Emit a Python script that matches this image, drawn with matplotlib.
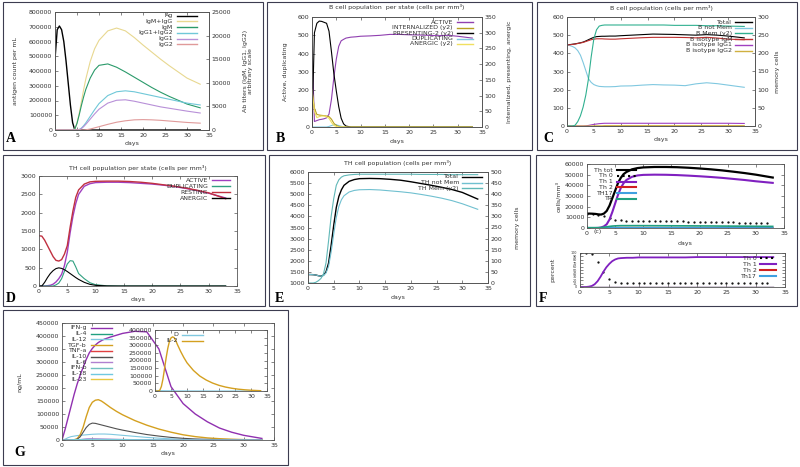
import matplotlib
matplotlib.use("Agg")
import matplotlib.pyplot as plt
from matplotlib.lines import Line2D
from matplotlib.patches import Rectangle

W, H = 800, 467
FS = 4.5
LW = 0.8

# sampling days shared by every curve
DAYS = [0, 0.5, 1, 1.5, 2, 2.5, 3, 3.5, 4, 4.5, 5, 5.5, 6, 6.5, 7, 8, 9, 10,
        12, 14, 16, 18, 20, 22, 24, 26, 28, 30, 33]
DOT_DAYS = list(range(0, 33))

# A: antigen and antibodies
AG = [480000, 680000, 705000, 680000, 600000, 470000, 320000, 170000, 50000,
      0, 0, 0, 0, 0, 0, 0, 0, 0, 0, 0, 0, 0, 0, 0, 0, 0, 0, 0, 0]
IGM_IGG = [0, 0, 0, 0, 0, 0, 0, 0, 0, 200, 1500, 3500, 6000, 8500, 10800, 14500,
           17200, 19000, 21000, 21600, 21000, 19600, 18000, 16500, 15000, 13600,
           12300, 11000, 9700]
IGM = [0, 0, 0, 0, 0, 0, 0, 0, 0, 200, 1400, 3200, 5200, 7000, 8600, 11000, 12700,
       13700, 14000, 13300, 12300, 11200, 10100, 9000, 8000, 7100, 6300, 5500, 4700]
IGG1_IGG2 = [0, 0, 0, 0, 0, 0, 0, 0, 0, 0, 0, 100, 400, 900, 1500, 2900, 4300, 5600,
             7300, 8100, 8300, 8100, 7700, 7300, 6900, 6500, 6100, 5700, 5300]
IGG1 = [0, 0, 0, 0, 0, 0, 0, 0, 0, 0, 0, 80, 300, 700, 1200, 2300, 3400, 4400,
        5700, 6300, 6400, 6100, 5700, 5300, 4900, 4600, 4300, 4000, 3600]
IGG2 = [0, 0, 0, 0, 0, 0, 0, 0, 0, 0, 0, 0, 0, 0, 50, 200, 450, 700, 1200, 1650,
        1950, 2150, 2200, 2150, 2050, 1900, 1750, 1600, 1450]

# B: B cells per state
B_ACTIVE = [440, 30, 35, 40, 42, 45, 50, 70, 150, 270, 370, 440, 470, 478, 485,
            490, 492, 495, 497, 500, 505, 505, 503, 502, 500, 498, 500, 495, 485]
B_INTERN = [115, 60, 40, 38, 37, 36, 35, 33, 25, 12, 5, 2, 0, 0, 0, 0, 0, 0, 0, 0,
            0, 0, 0, 0, 0, 0, 0, 0, 0]
B_PRESENT = [0, 300, 330, 337, 336, 333, 330, 305, 240, 170, 115, 65, 28, 10, 3,
             0, 0, 0, 0, 0, 0, 0, 0, 0, 0, 0, 0, 0, 0]
B_DUPL = [0, 0, 0, 0, 0, 0, 0, 3, 8, 12, 12, 8, 4, 1, 0, 0, 0, 0, 0, 0, 0, 0, 0, 0,
          0, 0, 0, 0, 0]
B_ANERGIC = [120, 50, 30, 33, 35, 35, 32, 28, 15, 5, 2, 0, 0, 0, 0, 0, 0, 0, 0, 0,
             0, 0, 0, 0, 0, 0, 0, 0, 0]

# C: B cell population
C_TOTAL = [445, 448, 450, 452, 455, 458, 462, 468, 475, 482, 488, 492, 493, 494,
           494, 495, 495, 497, 500, 503, 506, 505, 504, 502, 500, 503, 500, 495, 485]
C_NOTMEM = [445, 443, 438, 430, 415, 390, 350, 305, 260, 240, 228, 222, 218, 217,
            216, 216, 217, 220, 221, 225, 228, 226, 225, 222, 232, 238, 233, 225, 213]
C_MEM = [0, 0, 0, 2, 12, 28, 52, 85, 130, 190, 240, 265, 275, 277, 278, 278, 278,
         278, 278, 278, 278, 278, 277, 277, 277, 276, 276, 275, 274]
C_IGM = [445, 447, 449, 451, 454, 457, 460, 465, 470, 475, 478, 480, 480, 480, 479,
         478, 478, 480, 483, 486, 488, 488, 488, 487, 485, 488, 484, 478, 475]
C_IGG1 = [0, 0, 0, 0, 0, 0, 0, 1, 3, 6, 9, 11, 13, 14, 15, 15, 15, 15, 15, 15, 15,
          15, 15, 15, 15, 15, 15, 15, 14]
C_IGG2 = [0, 0, 0, 0, 0, 0, 0, 0, 0, 0, 1, 1, 1, 1, 2, 2, 2, 2, 2, 2, 2, 2, 2, 2, 2,
          2, 2, 2, 2]

# D: TH cells per state
D_ACTIVE = [0, 0, 2, 8, 20, 50, 110, 200, 320, 560, 920, 1450, 1900, 2250, 2500,
            2720, 2790, 2820, 2830, 2830, 2820, 2800, 2780, 2750, 2710, 2660, 2600,
            2530, 2400]
D_DUPL = [0, 0, 0, 0, 0, 0, 30, 80, 200, 400, 600, 690, 680, 520, 340, 200, 90, 35,
          5, 0, 0, 0, 0, 0, 0, 0, 0, 0, 0]
D_RESTING = [1370, 1360, 1250, 1100, 950, 800, 700, 680, 720, 870, 1100, 1600, 2050,
             2420, 2620, 2780, 2840, 2855, 2860, 2860, 2850, 2830, 2800, 2760, 2720,
             2670, 2610, 2540, 2380]
D_ANERGIC = [0, 0, 100, 230, 340, 420, 475, 495, 480, 445, 395, 340, 285, 230, 180,
             100, 45, 18, 2, 0, 0, 0, 0, 0, 0, 0, 0, 0, 0]

# E: TH cell population
E_TOTAL = [1380, 1380, 1375, 1360, 1330, 1310, 1350, 1500, 1900, 2700, 3600, 4400,
           4900, 5200, 5400, 5580, 5660, 5700, 5710, 5700, 5670, 5630, 5560, 5480,
           5400, 5310, 5210, 5080, 4780]
E_NOTMEM = [1380, 1380, 1375, 1360, 1330, 1310, 1330, 1450, 1750, 2400, 3200, 3950,
            4450, 4750, 4930, 5100, 5170, 5200, 5210, 5190, 5150, 5110, 5060, 4990,
            4910, 4820, 4710, 4570, 4320]
E_MEM = [0, 0, 0, 3, 10, 20, 40, 90, 190, 300, 380, 440, 465, 477, 483, 487, 489,
         490, 490, 490, 490, 490, 490, 489, 489, 489, 488, 488, 488]

# F: TH subsets
F_TOT = [13500, 13500, 13400, 13200, 12800, 12600, 13500, 16000, 21000, 28000,
         35000, 42000, 47000, 50500, 52500, 55000, 56200, 56800, 57200, 57200, 57000,
         56500, 55800, 55000, 54000, 52800, 51500, 50000, 47300]
F_TH1 = [0, 0, 0, 0, 100, 500, 1500, 3500, 8000, 15000, 23000, 31000, 37500, 42000,
         45000, 48000, 49300, 49800, 50000, 49900, 49600, 49100, 48500, 47800, 47000,
         46000, 45000, 43800, 42300]
F_TH2 = [100, 100, 100, 100, 100, 120, 150, 200, 250, 300, 320, 330, 340, 340, 340,
         330, 320, 310, 300, 290, 280, 270, 260, 250, 240, 230, 220, 210, 200]
F_TH17 = [50, 50, 50, 50, 50, 60, 80, 100, 120, 150, 160, 170, 170, 170, 170, 160,
          160, 150, 150, 140, 140, 130, 130, 120, 120, 110, 110, 100, 100]
F_TR = [300, 300, 300, 300, 300, 400, 800, 1100, 1500, 1800, 2000, 2100, 2200, 2200,
        2200, 2200, 2200, 2200, 2150, 2100, 2050, 2000, 1950, 1900, 1800, 1750, 1700,
        1600, 1500]
F_TH0 = [13500, 13300, 12500, 11500, 9500, 7800, 7300, 7000, 7000, 6900, 6800, 6700,
         6600, 6500, 6400, 6300, 6200, 6100, 6000, 5900, 5800, 5700, 5600, 5500, 5400,
         5300, 5200, 5100, 5000, 4900, 4800, 4700, 4600]
F_TH1_PCT = [0, 0, 0, 1, 3, 8, 17, 30, 45, 58, 68, 76, 81, 84, 85, 86, 86, 87, 87,
             87, 87, 87, 88, 88, 88, 88, 88, 88, 88]
F_TH2_PCT = [0, 0, 0, 0, 0, 0, 0, 0, 0, 0, 0, 0, 0, 0, 0, 0, 0, 0, 0, 0, 0, 0, 0, 0,
             0, 0, 0, 0, 0]
F_TH0_PCT = [100, 99, 96, 75, 44, 24, 15, 13, 12, 12, 12, 12, 12, 12, 12, 12, 12, 12,
             12, 12, 12, 12, 12, 12, 12, 12, 12, 12, 12, 12, 12, 12, 12]

# G: cytokines
G_IFNG = [0, 40000, 85000, 130000, 175000, 215000, 250000, 280000, 310000, 335000,
          352000, 365000, 375000, 382000, 388000, 396000, 403000, 410000, 418000,
          416000, 350000, 205000, 140000, 100000, 70000, 46000, 30000, 18000, 6000]
G_TGFB = [0, 0, 0, 0, 1000, 5000, 20000, 50000, 90000, 125000, 145000, 153000,
          155000, 150000, 142000, 125000, 110000, 97000, 75000, 57000, 42000, 30000,
          20000, 13000, 8000, 5000, 3000, 1500, 500]
G_IL10 = [0, 0, 0, 0, 0, 3000, 12000, 30000, 48000, 60000, 65000, 64000, 61000,
          58000, 55000, 49000, 43000, 38000, 29000, 21000, 15000, 10000, 6500, 4000,
          2500, 1500, 800, 400, 100]
G_IL12 = [0, 3000, 9000, 13000, 15000, 17000, 18000, 19000, 20000, 21000, 22000,
          22500, 23000, 23000, 23000, 22000, 20000, 18000, 14000, 10000, 7000, 4500,
          2500, 1500, 800, 400, 200, 100, 0]
G_IL6 = [0, 0, 0, 0, 0, 500, 1500, 3000, 4500, 5000, 5000, 4800, 4500, 4200, 3900,
         3300, 2700, 2200, 1500, 1000, 600, 400, 200, 100, 50, 0, 0, 0, 0]
G_IL18 = [0, 200, 600, 1000, 1500, 1800, 2000, 2200, 2300, 2400, 2500, 2500, 2500,
          2400, 2300, 2100, 1900, 1700, 1300, 900, 600, 400, 200, 100, 50, 0, 0, 0, 0]
G_FLAT = [0, 0, 0, 0, 0, 0, 0, 0, 0, 0, 0, 0, 0, 0, 0, 0, 0, 0, 0, 0, 0, 0, 0, 0, 0,
          0, 0, 0, 0]
G_IL2 = [0, 0, 0, 5000, 30000, 80000, 150000, 220000, 280000, 325000, 348000, 355000,
         350000, 330000, 305000, 260000, 220000, 185000, 135000, 98000, 72000, 52000,
         37000, 26000, 18000, 12000, 8000, 5000, 2000]
G_D = [4000, 3500, 3000, 2500, 2000, 1800, 1600, 1500, 1400, 1300, 1200, 1100, 1000,
       900, 800, 700, 600, 500, 400, 300, 200, 150, 100, 80, 60, 40, 30, 20, 10]

plt.rcParams['font.family'] = ['DejaVu Sans']
fig = plt.figure(figsize=(8, 4.67), dpi=100)
fig.patch.set_facecolor('white')


def place(l, t, r, b):
    return fig.add_axes([l / W, 1 - b / H, (r - l) / W, (b - t) / H])


def style(ax, ylim, yticks, right=True, ysize=FS):
    ax.set_xlim(0, 35)
    ax.set_xticks(range(0, 36, 5))
    ax.set_ylim(*ylim)
    ax.set_yticks(yticks)
    ax.tick_params(direction='in', length=2.5, width=0.5, labelsize=FS, pad=2,
                   top=True, right=right, labelcolor='#333333', color='#555555')
    ax.tick_params(axis='y', labelsize=ysize)
    for s in ax.spines.values():
        s.set_linewidth(0.6)
        s.set_color('#555555')


def twin(ax, ylim, yticks):
    ax2 = ax.twinx()
    ax2.set_ylim(*ylim)
    ax2.set_yticks(yticks)
    ax2.tick_params(direction='in', length=2.5, width=0.5, labelsize=FS, pad=2,
                    labelcolor='#333333', color='#555555')
    for s in ax2.spines.values():
        s.set_linewidth(0.6)
        s.set_color('#555555')
    return ax2


def txt(x, y, s, rot=0, ha='center', size=FS):
    fig.text(x / W, 1 - y / H, s, rotation=rot, ha=ha, va='center', fontsize=size,
             color='#333333')


def key(entries, xt, x0, x1, y0, dy, lw=1.0):
    # gnuplot style key: label right aligned, sample line after it
    for i, (lab, col, ls) in enumerate(entries):
        y = 1 - (y0 + i * dy) / H
        fig.text(xt / W, y, lab, ha='right', va='center', fontsize=FS, color='#333333')
        fig.add_artist(Line2D([x0 / W, x1 / W], [y, y], color=col, lw=lw, ls=ls))


def frame(l, t, r, b, letter, lx, ly):
    fig.add_artist(Rectangle((l / W, 1 - b / H), (r - l) / W, (b - t) / H, fill=False,
                             ec='#3c3c50', lw=0.8, transform=fig.transFigure))
    fig.text(lx / W, 1 - ly / H, letter, fontsize=10, fontweight='bold',
             family='Liberation Serif', ha='left', va='center')


# panel A
ax = place(55, 12, 209, 130)
style(ax, (0, 800000), range(0, 800001, 100000), right=False)
ax2 = twin(ax, (0, 25000), range(0, 25001, 5000))
ax.plot(DAYS, AG, color='black', lw=1.0)
ax2.plot(DAYS, IGM_IGG, color='#e8d890', lw=LW)
ax2.plot(DAYS, IGM, color='#2a9a6a', lw=LW)
ax2.plot(DAYS, IGG1_IGG2, color='#70c8d8', lw=LW)
ax2.plot(DAYS, IGG1, color='#b890d8', lw=LW)
ax2.plot(DAYS, IGG2, color='#e09a9a', lw=LW)
key([('Ag', 'black', '-'), ('IgM+IgG', '#e8d890', '-'), ('IgM', '#2a9a6a', '-'),
     ('IgG1+IgG2', '#70c8d8', '-'), ('IgG1', '#b890d8', '-'), ('IgG2', '#e09a9a', '-')],
    173, 177, 197, 15.7, 5.7)
txt(16, 71, 'antigen count per mL', rot=90)
txt(248, 71, 'Ab titers (IgM, IgG1, IgG2)\narbitrary scale', rot=90)
txt(132, 144, 'days')
frame(3, 2, 263, 150, 'A', 6, 138)

# panel B
ax = place(312, 17, 482, 127)
style(ax, (0, 600), range(0, 601, 100), right=False)
ax2 = twin(ax, (0, 350), range(0, 351, 50))
ax.plot(DAYS, B_ACTIVE, color='#9040b0', lw=LW)
ax2.plot(DAYS, B_INTERN, color='#b8a020', lw=LW)
ax2.plot(DAYS, B_PRESENT, color='black', lw=LW)
ax.plot(DAYS, B_DUPL, color='#80c8e0', lw=LW)
ax2.plot(DAYS, B_ANERGIC, color='#f0e060', lw=LW)
key([('ACTIVE', '#9040b0', '-'), ('INTERNALIZED (y2)', '#b8a020', '-'),
     ('PRESENTING-2 (y2)', 'black', '-'), ('DUPLICATING', '#80c8e0', '-'),
     ('ANERGIC (y2)', '#f0e060', '-')], 453, 457, 473, 22, 5.5)
txt(397, 7, 'B cell population  per state (cells per mm³)')
txt(286, 72, 'Active, duplicating', rot=90)
txt(510, 72, 'Internalized, presenting, anergic', rot=90)
txt(397, 141, 'days')
frame(267, 2, 532, 150, 'B', 276, 138)

# panel C
ax = place(567, 17, 755, 126)
style(ax, (0, 600), range(0, 601, 100), right=False)
ax2 = twin(ax, (0, 300), range(0, 301, 50))
ax.plot(DAYS, C_TOTAL, color='black', lw=LW)
ax.plot(DAYS, C_NOTMEM, color='#80c8e0', lw=LW)
ax2.plot(DAYS, C_MEM, color='#30b090', lw=LW)
ax.plot(DAYS, C_IGM, color='#c03030', lw=LW)
ax.plot(DAYS, C_IGG1, color='#a040c0', lw=LW)
ax.plot(DAYS, C_IGG2, color='#d0b040', lw=LW)
key([('Total', 'black', '-'), ('B not Mem', '#80c8e0', '-'),
     ('B Mem (y2)', '#30b090', '-'), ('B isotype IgM', '#c03030', '-'),
     ('B isotype IgG1', '#a040c0', '-'), ('B isotype IgG2', '#d0b040', '-')],
    732, 735, 752, 22, 5.7)
txt(661, 8, 'B cell population (cells per mm³)')
txt(778, 72, 'memory cells', rot=90)
txt(661, 139, 'days')
frame(537, 2, 797, 150, 'C', 543, 138)

# panel D
ax = place(39, 176, 237, 286)
style(ax, (0, 3000), range(0, 3001, 500))
ax.plot(DAYS, D_ACTIVE, color='#a040c0', lw=1.0)
ax.plot(DAYS, D_DUPL, color='#30a080', lw=LW)
ax.plot(DAYS, D_RESTING, color='#c03040', lw=1.0)
ax.plot(DAYS, D_ANERGIC, color='black', lw=LW)
key([('ACTIVE', '#a040c0', '-'), ('DUPLICATING', '#30a080', '-'),
     ('RESTING', '#c03040', '-'), ('ANERGIC', 'black', '-')], 208, 212, 230, 180, 6)
txt(138, 168, 'TH cell population per state (cells per mm³)')
txt(138, 300, 'days')
frame(3, 155, 265, 306, 'D', 6, 298)

# panel E
ax = place(308, 172, 488, 283)
style(ax, (1000, 6000), range(1000, 6001, 500), right=False)
ax2 = twin(ax, (0, 500), range(0, 501, 50))
ax.plot(DAYS, E_TOTAL, color='black', lw=1.0)
ax.plot(DAYS, E_NOTMEM, color='#70c0d0', lw=LW)
ax2.plot(DAYS, E_MEM, color='#60b8b8', lw=LW)
key([('Total', 'black', '-'), ('TH not Mem', '#70c0d0', '-'),
     ('TH Mem (y2)', '#60b8b8', '-')], 459, 462, 482, 177, 5.7)
txt(398, 163, 'TH cell population (cells per mm³)')
txt(518, 228, 'memory cells', rot=90)
txt(398, 298, 'days')
frame(269, 155, 530, 306, 'E', 275, 298)

# panel F, top
ax = place(587, 164, 784, 228)
style(ax, (0, 60000), range(0, 60001, 10000))
ax.plot(DAYS, F_TOT, color='black', lw=1.6)
ax.plot(DOT_DAYS, F_TH0, ls='none', marker='.', ms=1.2, color='black')
ax.plot(DAYS, F_TH1, color='#8020c0', lw=1.5)
ax.plot(DAYS, F_TH2, color='#d02020', lw=1.2)
ax.plot(DAYS, F_TH17, color='#40a0e0', lw=1.2)
ax.plot(DAYS, F_TR, color='#20a080', lw=1.2)
key([('Th tot', 'black', '-'), ('Th 0', 'black', ':'), ('Th 1', '#8020c0', '-'),
     ('Th 2', '#d02020', '-'), ('TH17', '#40a0e0', '-'), ('TR', '#20a080', '-')],
    613, 617, 636, 170, 5.8, lw=1.5)
txt(558, 196, 'cells/mm³', rot=90)
txt(685, 243, 'days')
txt(598, 232, '(c)')

# panel F, bottom (y labels are crammed in the original too)
ax = place(580, 253, 785, 287)
style(ax, (0, 100), range(0, 101, 10), ysize=2.4)
ax.plot(DOT_DAYS, F_TH0_PCT, ls='none', marker='.', ms=1.2, color='black')
ax.plot(DAYS, F_TH1_PCT, color='#8020c0', lw=1.3)
ax.plot(DAYS, F_TH2_PCT, color='#d02020', lw=1.0)
ax.plot(DAYS, F_TH2_PCT, color='#40a0e0', lw=1.0)
key([('Th 0', 'black', ':'), ('Th 1', '#8020c0', '-'), ('Th 2', '#d02020', '-'),
     ('Th17', '#40a0e0', '-')], 757, 760, 776, 258, 6, lw=1.5)
txt(553, 270, 'percent', rot=90)
frame(536, 155, 797, 306, 'F', 539, 299)

# panel G
ax = place(62, 323, 274, 440)
style(ax, (0, 450000), range(0, 450001, 50000))
ax.plot(DAYS, G_IFNG, color='#9030b0', lw=1.0)
ax.plot(DAYS, G_FLAT, color='#20a080', lw=LW)
ax.plot(DAYS, G_IL12, color='#80c8e0', lw=LW)
ax.plot(DAYS, G_TGFB, color='#d4a020', lw=1.0)
ax.plot(DAYS, G_FLAT, color='#e04040', lw=LW)
ax.plot(DAYS, G_IL10, color='#505050', lw=LW)
ax.plot(DAYS, G_IL6, color='#b080d0', lw=LW)
ax.plot(DAYS, G_FLAT, color='#70c0c0', lw=LW)
ax.plot(DAYS, G_IL18, color='#70c8e0', lw=LW)
ax.plot(DAYS, G_FLAT, color='#e8c840', lw=LW)
key([('IFN-g', '#9030b0', '-'), ('IL-4', '#20a080', '-'), ('IL-12', '#80c8e0', '-'),
     ('TGF-b', '#d4a020', '-'), ('TNF-a', '#e04040', '-'), ('IL-10', '#505050', '-'),
     ('IL-6', '#b080d0', '-'), ('IFN-b', '#70c0c0', '-'), ('IL-18', '#70c8e0', '-'),
     ('IL-23', '#e8c840', '-')], 87, 91, 112, 328, 5.7)
txt(20, 382, 'ng/mL', rot=90)
txt(168, 453, 'days')

# inset of G
ax = place(155, 330, 267, 391)
ax.patch.set_alpha(0)
style(ax, (0, 400000), range(0, 400001, 50000))
ax.plot(DAYS, G_D, color='#80c8e0', lw=LW)
ax.plot(DAYS, G_IL2, color='#d4a020', lw=1.0)
key([('D', '#80c8e0', '-'), ('IL-2', '#d4a020', '-')], 178, 182, 203, 335, 5.7)
frame(3, 310, 288, 465, 'G', 14, 452)

fig.savefig('out.png', dpi=100, facecolor='white')
